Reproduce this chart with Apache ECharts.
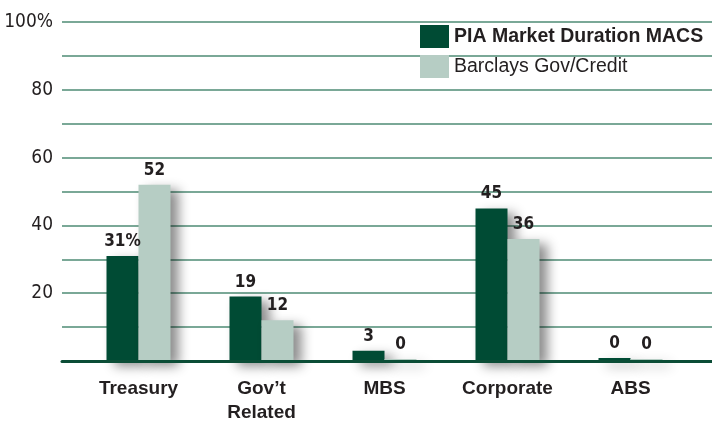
<!DOCTYPE html>
<html>
<head>
<meta charset="utf-8">
<script src="https://cdn.jsdelivr.net/npm/echarts@6/dist/echarts.min.js"></script>
<style>
  html, body { margin: 0; padding: 0; background: #fff; }
  #chart { width: 712px; height: 421px; }
</style>
</head>
<body>
<div id="chart"></div>
<script>
var categories = ["Treasury", "Gov\u2019t\nRelated", "MBS", "Corporate", "ABS"];
var piaValues = [31, 19, 3, 45, 0];
var barclaysValues = [52, 12, 0, 36, 0];
var seriesNames = ["PIA Market Duration MACS", "Barclays Gov/Credit"];

var narrow = "'Liberation Sans Narrow', 'DejaVu Sans Condensed', sans-serif";
var wide = "'Liberation Sans', Arial, sans-serif";
var darkGreen = "#004b34";
var lightGreen = "#b6cdc4";
var textColor = "#231f20";

var myChart = echarts.init(document.getElementById("chart"));

function barLabel(pct) {
  return {
    show: true,
    position: "top",
    distance: 6,
    color: textColor,
    fontFamily: narrow,
    fontWeight: "bold",
    fontSize: 17,
    formatter: function (p) {
      return pct && p.dataIndex === 0 ? p.value + "%" : p.value;
    }
  };
}

var shadow = {
  shadowColor: "rgba(0,0,0,0.45)",
  shadowBlur: 12,
  shadowOffsetX: 8,
  shadowOffsetY: 5
};

var option = {
  animation: false,
  backgroundColor: "#fff",
  legend: {
    orient: "vertical",
    left: 420,
    top: 25,
    padding: 0,
    itemWidth: 29,
    itemHeight: 23,
    itemGap: 7,
    icon: "rect",
    textStyle: { color: textColor, fontFamily: wide, fontSize: 19.5 },
    data: [
      { name: seriesNames[0], textStyle: { fontWeight: "bold" } },
      { name: seriesNames[1] }
    ]
  },
  grid: [
    { left: 62, right: 0, top: 22, bottom: 60, outerBoundsMode: "none" },
    { left: 77, width: 615, top: 22, bottom: 60, outerBoundsMode: "none" }
  ],
  xAxis: [
    {
      gridIndex: 0,
      type: "value",
      min: 0,
      max: 1,
      axisLabel: { show: false },
      axisTick: { show: false },
      splitLine: { show: false },
      axisLine: { show: true, lineStyle: { color: "#0b4d36", width: 3 } },
      z: 5
    },
    {
      gridIndex: 1,
      type: "category",
      data: categories,
      axisLine: { show: false },
      axisTick: { show: false },
      axisLabel: {
        margin: 16,
        color: textColor,
        fontFamily: wide,
        fontWeight: "bold",
        fontSize: 19,
        lineHeight: 24
      }
    }
  ],
  yAxis: [
    {
      gridIndex: 0,
      type: "value",
      min: 0,
      max: 100,
      interval: 10,
      axisLine: { show: false },
      axisTick: { show: false },
      axisLabel: {
        margin: 9,
        color: textColor,
        fontFamily: narrow,
        fontSize: 19,
        formatter: function (v) {
          if (v === 100) return "100%";
          return v > 0 && v % 20 === 0 ? String(v) : "";
        }
      },
      splitLine: { lineStyle: { color: "#7aa897", width: 2 } }
    },
    {
      gridIndex: 1,
      type: "value",
      min: 0,
      max: 100,
      show: false
    }
  ],
  series: [
    {
      name: seriesNames[0],
      type: "bar",
      xAxisIndex: 1,
      yAxisIndex: 1,
      data: piaValues,
      barWidth: 32,
      barGap: "0%",
      barMinHeight: 3,
      itemStyle: Object.assign({ color: darkGreen }, shadow),
      label: barLabel(true)
    },
    {
      name: seriesNames[1],
      type: "bar",
      xAxisIndex: 1,
      yAxisIndex: 1,
      data: barclaysValues,
      barWidth: 32,
      barGap: "0%",
      barMinHeight: 2,
      itemStyle: Object.assign({ color: lightGreen }, shadow),
      label: barLabel(false)
    }
  ]
};

myChart.setOption(option);
</script>
</body>
</html>
